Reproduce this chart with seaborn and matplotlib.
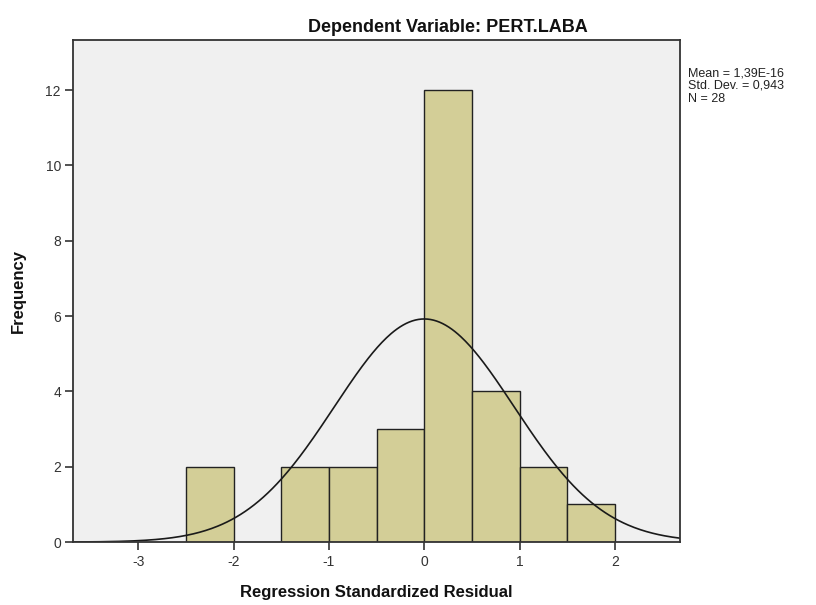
import numpy as np
import pandas as pd
import matplotlib
matplotlib.use("Agg")
import matplotlib.pyplot as plt
import seaborn as sns

# histogram bins (width 0.5) and counts
bin_edges = [-2.5, -2.0, -1.5, -1.0, -0.5, 0.0, 0.5, 1.0, 1.5, 2.0]
counts = [2, 0, 2, 2, 3, 12, 4, 2, 1]
mean_val = 1.39e-16
std_val = 0.943
n_obs = 28

sns.set_theme(style="white")
plt.rcParams['font.family'] = ['Liberation Sans', 'DejaVu Sans']
plt.rcParams['axes.unicode_minus'] = False

centers = [(a + b) / 2 for a, b in zip(bin_edges[:-1], bin_edges[1:])]
df = pd.DataFrame({'resid': centers, 'freq': counts})

fig = plt.figure(figsize=(8.16, 6.05), dpi=100)
ax = fig.add_axes([0.090, 0.104, 0.743, 0.830])
ax.set_facecolor('#F0F0F0')

sns.histplot(data=df, x='resid', weights='freq', bins=bin_edges,
             color='#D3CE97', edgecolor='#222222', linewidth=1.0,
             alpha=1.0, ax=ax)

# fitted normal curve
xs = np.linspace(-3.68, 2.68, 400)
width = bin_edges[1] - bin_edges[0]
ys = n_obs * width * np.exp(-0.5 * ((xs - mean_val) / std_val) ** 2) / (std_val * np.sqrt(2 * np.pi))
sns.lineplot(x=xs, y=ys, color='#1a1a1a', linewidth=1.2, ax=ax)

ax.set_xlim(-3.68, 2.68)
ax.set_ylim(0, 13.33)
ax.set_xticks([-3, -2, -1, 0, 1, 2])
ax.set_yticks([0, 2, 4, 6, 8, 10, 12])
ax.tick_params(axis='both', direction='out', length=6, width=1.2, color='#333333',
               labelsize=10, labelcolor='#333333', bottom=True, left=True, pad=3)
for s in ax.spines.values():
    s.set_color('#333333')
    s.set_linewidth(1.3)

ax.set_xlabel('Regression Standardized Residual', fontsize=12, fontweight='bold',
              labelpad=12, color='#111111')
ax.set_ylabel('Frequency', fontsize=12, fontweight='bold', labelpad=14, color='#111111')

fig.text(448 / 816, 1 - 28 / 605, 'Dependent Variable: PERT.LABA',
         ha='center', va='center', fontsize=13, fontweight='bold', color='#111111')
fig.text(688 / 816, 1 - 67 / 605,
         'Mean = 1,39E-16\nStd. Dev. = 0,943\nN = 28',
         ha='left', va='top', fontsize=9, linespacing=1.1, color='#222222')

fig.savefig('out.png', dpi=100)
